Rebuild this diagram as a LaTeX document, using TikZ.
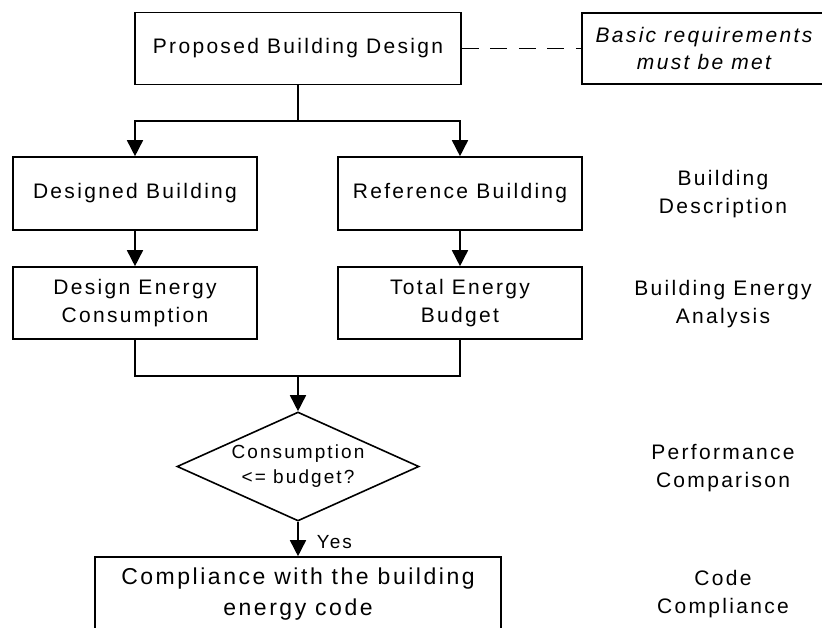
\documentclass[tikz,border=0pt]{standalone}
\usepackage{fontspec}
\setmainfont{Liberation Sans}[LetterSpace=11]
\usetikzlibrary{arrows.meta,shapes.geometric}
\begin{document}
\begin{tikzpicture}[x=1pt,y=-1pt,
  box/.style={draw, line width=1.6pt, minimum width=244pt, minimum height=72pt, inner sep=0pt, align=center, font=\fontsize{21}{28}\selectfont},
  lbl/.style={align=center, inner sep=0pt, font=\fontsize{21}{28}\selectfont},
  conn/.style={line width=1.6pt},
  arr/.style={line width=1.6pt, -{Triangle[length=16pt,width=16pt]}},
  decision/.style={draw, line width=1.6pt, shape=diamond, aspect=2.22, minimum width=242pt, minimum height=109pt, inner sep=0pt, align=center, font=\fontsize{19}{25}\selectfont}
]
\fill[white] (0,0) rectangle (822,628);
\useasboundingbox (0,0) rectangle (822,628);

\node[box, minimum width=326pt] (top) at (298,48.5) {Proposed Building Design};
\node[box, minimum height=71pt, font=\itshape\fontsize{21}{27}\selectfont] (basic) at (704,48.5) {Basic requirements\\must be met};
\node[box, minimum height=73pt] (des) at (135,193.5) {Designed Building};
\node[box, minimum height=73pt] (ref) at (460,193.5) {Reference Building};
\node[box] (dec) at (135,303) {Design Energy\\Consumption};
\node[box] (tec) at (460,303) {Total Energy\\Budget};
\node[decision] (cmp) at (298,466.5) {Consumption\\<= budget?};
\node[box, minimum width=406pt, minimum height=75pt, font=\fontsize{23}{31}\selectfont] (comp) at (298,594.5) {Compliance with the building\\energy code};

\node[lbl] (l1) at (723,194) {Building\\Description};
\node[lbl] (l2) at (723,304) {Building Energy\\Analysis};
\node[lbl] (l3) at (723,468.5) {Performance\\Comparison};
\node[lbl] (l4) at (723,594) {Code\\Compliance};

\coordinate (split) at (298,121);
\coordinate (merge) at (298,376);

\draw[conn, dash pattern=on 17pt off 11.5pt] (top.east) -- (basic.west);
\draw[conn] (top.south) -- (split);
\draw[arr] (split) -| (des.north);
\draw[arr] (split) -| (ref.north);
\draw[arr] (des.south) -- (dec.north);
\draw[arr] (ref.south) -- (tec.north);
\draw[conn] (dec.south) |- (merge) -| (tec.south);
\draw[arr] (merge) -- (cmp.north);
\draw[arr] (cmp.south) -- node[right, xshift=18pt, yshift=-3pt, inner sep=0pt, font=\fontsize{19}{25}\selectfont] (yes) {Yes} (comp.north);
\end{tikzpicture}
\end{document}
